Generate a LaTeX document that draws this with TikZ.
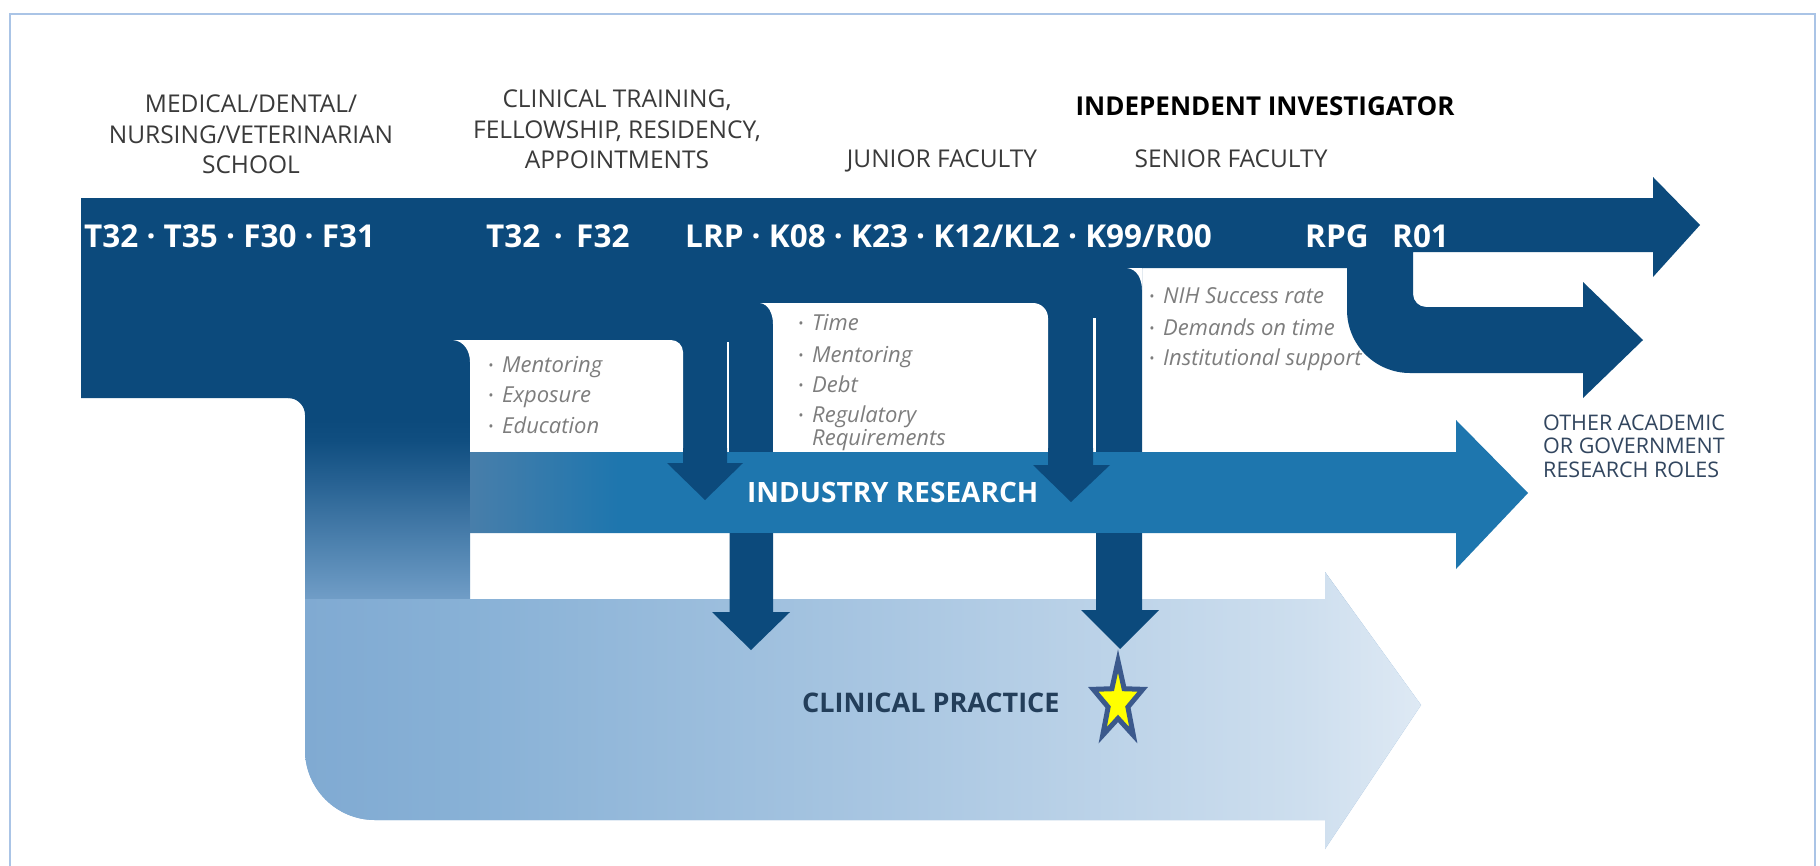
\documentclass[tikz,border=0pt]{standalone}
\usepackage{fontspec}
\setmainfont{Open Sans}
\definecolor{navy}{RGB}{12,74,124}
\definecolor{indblue}{RGB}{30,118,174}
\definecolor{indleft}{RGB}{72,126,170}
\definecolor{p1}{RGB}{16,78,128}
\definecolor{p2}{RGB}{38,97,146}
\definecolor{p3}{RGB}{78,130,175}
\definecolor{p4}{RGB}{126,168,208}
\definecolor{pb}{RGB}{132,173,212}
\definecolor{c0}{RGB}{128,170,210}
\definecolor{c1}{RGB}{136,177,214}
\definecolor{c2}{RGB}{170,199,226}
\definecolor{c3}{RGB}{205,222,238}
\definecolor{c4}{RGB}{222,233,244}
\definecolor{hdrgray}{RGB}{58,58,58}
\definecolor{bulgray}{RGB}{125,125,125}
\definecolor{clintext}{RGB}{35,62,90}
\definecolor{othertext}{RGB}{50,70,95}
\definecolor{framecol}{RGB}{170,196,230}
\definecolor{starline}{RGB}{59,89,140}
\definecolor{staryellow}{RGB}{255,255,0}
\pgfdeclareverticalshading{pipeshade}{100bp}{color(0bp)=(pb); color(25bp)=(pb); color(50.2bp)=(p4); color(58.5bp)=(p3); color(65.6bp)=(p2); color(70bp)=(p1); color(72.2bp)=(navy); color(100bp)=(navy)}
\pgfdeclarehorizontalshading{clinshade}{100bp}{color(0bp)=(c0); color(25bp)=(c0); color(32.4bp)=(c1); color(51.7bp)=(c2); color(69.6bp)=(c3); color(75bp)=(c4); color(100bp)=(c4)}
\pgfdeclarehorizontalshading{indshade}{100bp}{color(0bp)=(indleft); color(25bp)=(indleft); color(32bp)=(indblue); color(100bp)=(indblue)}
\newcommand{\bu}{\makebox[14pt][l]{\fontsize{14}{14}\selectfont\raisebox{2pt}{•}}}
\begin{document}
\begin{tikzpicture}[x=1pt,y=-1pt,
  hdr/.style={inner sep=0pt, anchor=base, text=hdrgray, font=\fontsize{24.5}{28}\selectfont},
  hdrb/.style={inner sep=0pt, anchor=base, text=black, font=\fontsize{26}{30}\selectfont\bfseries},
  bandtxt/.style={inner sep=0pt, anchor=base west, text=white, font=\fontsize{31.5}{36}\selectfont\bfseries},
  bultxt/.style={inner sep=0pt, anchor=base west, text=bulgray, font=\fontsize{22}{26}\selectfont\itshape},
  bigtxt/.style={inner sep=0pt, anchor=base west, font=\fontsize{28}{32}\selectfont\bfseries},
  othertxt/.style={inner sep=0pt, anchor=base west, text=othertext, font=\fontsize{21.5}{25}\selectfont},
  sep/.style={white, line width=2.5pt}]
\useasboundingbox (0,0) rectangle (1820,865);
\fill[white] (0,0) rectangle (1820,865);
\draw[framecol, line width=2pt] (10,14) rectangle (1815,900);
% pipe and clinical practice gradient
\shade[shading=pipeshade] (470,395) -- (288,395) -- (288,398) .. controls (297.4,398) and (305,405.6) .. (305,415) -- (305,750) .. controls (305,788.7) and (336.3,820) .. (375,820) -- (1325,820) -- (1325,849) -- (1421,705) -- (1325,572) -- (1325,599) -- (470,599) -- cycle;
\shade[shading=clinshade] (305,599) -- (1325,599) -- (1325,572) -- (1421,705) -- (1325,849) -- (1325,820) -- (375,820) .. controls (336.3,820) and (305,788.7) .. (305,750) -- cycle;
% dark main band
\fill[navy] (81,198) -- (1653,198) -- (1653,177) -- (1700,225) -- (1653,277) -- (1653,252) -- (1413,252) -- (1413,294) .. controls (1413,301.2) and (1418.8,307) .. (1426,307) -- (1583,307) -- (1583,282) -- (1643,340) -- (1583,398) -- (1583,373) -- (1410,373) .. controls (1375.2,373) and (1347,344.8) .. (1347,310) -- (1347,268) -- (1142,268) -- (1142,452) -- (470,452) -- (470,398) -- (81,398) -- cycle;
% white boxes
\fill[white] (453,340) -- (671,340) .. controls (677.6,340) and (683,345.4) .. (683,352) -- (683,452) -- (470,452) -- (470,362) .. controls (470,351) and (464,341) .. (453,340) -- cycle;
\fill[white] (760,303) -- (1033,303) .. controls (1041.3,303) and (1048,309.7) .. (1048,318) -- (1048,452) -- (773,452) -- (773,324) .. controls (773,313) and (768,304) .. (760,303) -- cycle;
\fill[white] (1127,268) -- (1142,268) -- (1142,290) .. controls (1142,279) and (1137,269) .. (1127,268) -- cycle;
% industry research arrow
\shade[shading=indshade] (470,452) -- (1456,452) -- (1456,420) -- (1528,493) -- (1456,569) -- (1456,533) -- (470,533) -- cycle;
% shaft separators
\draw[sep] (728,342) -- (728,452);
\draw[sep] (1094.5,318) -- (1094.5,452);
% downward arrows
\fill[navy] (683,448) -- (727,448) -- (727,463) -- (743,463) -- (705,500) -- (667,463) -- (683,463) -- cycle;
\fill[navy] (1048,448) -- (1093,448) -- (1093,465) -- (1110,465) -- (1071,502) -- (1033,465) -- (1048,465) -- cycle;
\fill[navy] (729.5,533) -- (773,533) -- (773,612) -- (790,612) -- (751,650) -- (712,612) -- (729.5,612) -- cycle;
\fill[navy] (1096,533) -- (1142,533) -- (1142,610) -- (1159,610) -- (1120,649) -- (1081,610) -- (1096,610) -- cycle;
% star
\filldraw[fill=staryellow, draw=starline, line width=5pt, shift={(1118,702)}] (90:26pt and 41pt) -- (126:10.4pt and 16.4pt) -- (162:26pt and 41pt) -- (198:10.4pt and 16.4pt) -- (234:26pt and 41pt) -- (270:10.4pt and 16.4pt) -- (306:26pt and 41pt) -- (342:10.4pt and 16.4pt) -- (18:26pt and 41pt) -- (54:10.4pt and 16.4pt) -- cycle;
% headers
\node[hdr] (h1a) at (251,112) {MEDICAL/DENTAL/};
\node[hdr] (h1b) at (251,143) {NURSING/VETERINARIAN};
\node[hdr] (h1c) at (251,173) {SCHOOL};
\node[hdr] (h2a) at (617,107) {CLINICAL TRAINING,};
\node[hdr] (h2b) at (617,138) {FELLOWSHIP, RESIDENCY,};
\node[hdr] (h2c) at (617,168) {APPOINTMENTS};
\node[hdr] (h3) at (942,167) {JUNIOR FACULTY};
\node[hdr] (h4) at (1231,167) {SENIOR FACULTY};
\node[hdrb] (h5) at (1265,115) {INDEPENDENT INVESTIGATOR};
% band texts
\node[bandtxt] (g1) at (84,247) {T32 · T35 · F30 · F31};
\node[bandtxt] (g2) at (486,247) {T32 \,·\, F32};
\node[bandtxt] (g3) at (685,247) {LRP · K08 · K23 · K12/KL2 · K99/R00};
\node[bandtxt] (g4) at (1305,247) {RPG};
\node[bandtxt] (g5) at (1392,247) {R01};
% bullets
\node[bultxt] (m1) at (488,372) {\bu Mentoring};
\node[bultxt] (m2) at (488,402) {\bu Exposure};
\node[bultxt] (m3) at (488,433) {\bu Education};
\node[bultxt] (t1) at (798,330) {\bu Time};
\node[bultxt] (t2) at (798,362) {\bu Mentoring};
\node[bultxt] (t3) at (798,392) {\bu Debt};
\node[bultxt] (t4) at (798,422) {\bu Regulatory};
\node[bultxt] (t5) at (812,445) {Requirements};
\node[bultxt] (n1) at (1149,303) {\bu NIH Success rate};
\node[bultxt] (n2) at (1149,335) {\bu Demands on time};
\node[bultxt] (n3) at (1149,365) {\bu Institutional support};
% big labels
\node[bigtxt, text=white] (ind) at (747,502) {INDUSTRY RESEARCH};
\node[bigtxt, text=clintext, font=\fontsize{27}{32}\selectfont\bfseries] (clin) at (802,712) {CLINICAL PRACTICE};
\node[othertxt] (o1) at (1543,430) {OTHER ACADEMIC};
\node[othertxt] (o2) at (1543,453) {OR GOVERNMENT};
\node[othertxt] (o3) at (1543,477) {RESEARCH ROLES};
\end{tikzpicture}
\end{document}
